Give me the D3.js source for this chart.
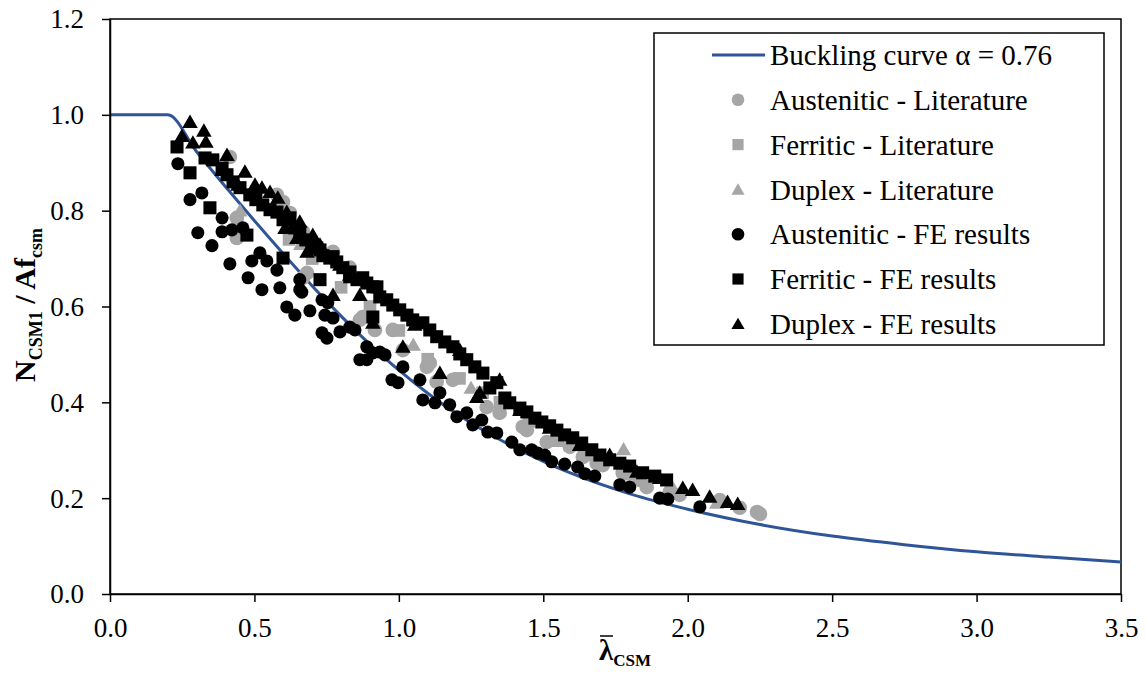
<!DOCTYPE html>
<html>
<head>
<meta charset="utf-8">
<script src="https://cdn.jsdelivr.net/npm/d3@7"></script>
<style>
  body { margin: 0; background: #fff; }
  svg text { font-family: "Liberation Serif", "Times New Roman", serif; fill: #000; }
</style>
</head>
<body>
<div id="screen"></div>
<script>
var width = 1146;
var height = 673;

// buckling curve (alpha = 0.76)
var curveLambda = [0, 0.2, 0.3, 0.4, 0.5, 0.6, 0.7, 0.8, 0.9, 1.0, 1.1, 1.2, 1.3, 1.4, 1.5, 1.6, 1.8, 2.0, 2.25, 2.5, 2.75, 3.0, 3.25, 3.5];
var curveChi = [1, 1, 0.923, 0.850, 0.779, 0.710, 0.643, 0.580, 0.521, 0.467, 0.419, 0.376, 0.339, 0.306, 0.277, 0.251, 0.209, 0.177, 0.145, 0.121, 0.103, 0.088, 0.077, 0.067];

// Austenitic - Literature
var austLit = [[0.415,0.912],[0.578,0.833],[0.599,0.818],[0.439,0.785],[0.439,0.743],[0.623,0.795],[0.633,0.754],
  [0.668,0.756],[0.668,0.660],[0.682,0.670],[0.772,0.714],[0.830,0.681],[0.875,0.578],[0.865,0.572],[0.917,0.551],
  [0.979,0.551],[1.014,0.509],[1.097,0.474],[1.107,0.482],[1.131,0.443],[1.187,0.447],[1.304,0.390],[1.349,0.378],
  [1.429,0.349],[1.443,0.342],[1.512,0.317],[1.592,0.307],[1.637,0.286],[1.685,0.273],[1.706,0.269],[1.775,0.253],
  [1.834,0.238],[1.858,0.223],[1.938,0.213],[1.972,0.207],[2.111,0.196],[2.180,0.180],[2.240,0.171],[2.250,0.167]];

// Ferritic - Literature
var ferrLit = [[0.62,0.74],[0.70,0.70],[0.80,0.64],[0.90,0.60],[1.00,0.55],[1.10,0.49],[1.21,0.45],[1.29,0.42],
  [1.35,0.40],[1.45,0.36],[1.55,0.32],[1.66,0.29],[1.80,0.25]];

// Duplex - Literature
var duplLit = [[0.45,0.80],[0.66,0.73],[0.90,0.58],[1.05,0.52],[1.25,0.43],[1.60,0.31],[1.778,0.302],[1.95,0.22],[2.10,0.19]];

// Austenitic - FE results
var austFE = [[0.235,0.898],[0.277,0.823],[0.318,0.837],[0.304,0.754],[0.353,0.727],[0.388,0.785],[0.388,0.756],
  [0.422,0.760],[0.415,0.689],[0.460,0.764],[0.478,0.660],[0.491,0.695],[0.519,0.712],[0.543,0.695],[0.526,0.635],
  [0.578,0.676],[0.588,0.639],[0.657,0.656],[0.657,0.635],[0.612,0.599],[0.640,0.582],[0.692,0.591],[0.664,0.630],
  [0.734,0.614],[0.754,0.608],[0.744,0.582],[0.772,0.576],[0.734,0.545],[0.751,0.534],[0.796,0.547],[0.830,0.557],
  [0.848,0.551],[0.865,0.489],[0.889,0.489],[0.889,0.516],[0.934,0.505],[0.952,0.499],[0.910,0.503],[0.976,0.447],
  [0.997,0.441],[1.014,0.474],[1.073,0.447],[1.083,0.405],[1.125,0.399],[1.142,0.420],[1.176,0.395],[1.201,0.370],
  [1.235,0.378],[1.256,0.353],[1.287,0.363],[1.308,0.338],[1.339,0.336],[1.391,0.317],[1.419,0.301],[1.460,0.301],
  [1.481,0.294],[1.505,0.290],[1.529,0.276],[1.574,0.271],[1.619,0.265],[1.644,0.251],[1.678,0.246],[1.765,0.228],
  [1.799,0.223],[1.903,0.200],[1.931,0.198],[2.042,0.182]];

// Ferritic - FE results
var ferrFE = [[0.232,0.933],[0.277,0.879],[0.329,0.910],[0.356,0.906],[0.346,0.806],[0.388,0.889],[0.405,0.875],
  [0.426,0.860],[0.450,0.848],[0.474,0.749],[0.484,0.833],[0.505,0.823],[0.529,0.812],[0.554,0.802],[0.578,0.797],
  [0.599,0.781],[0.623,0.785],[0.599,0.701],[0.640,0.764],[0.657,0.754],[0.678,0.739],[0.699,0.729],[0.716,0.722],
  [0.727,0.718],[0.737,0.706],[0.761,0.701],[0.772,0.704],[0.785,0.693],[0.806,0.681],[0.830,0.672],[0.830,0.662],
  [0.855,0.656],[0.875,0.660],[0.889,0.649],[0.910,0.641],[0.924,0.641],[0.934,0.620],[0.958,0.614],[0.979,0.603],
  [1.003,0.593],[1.028,0.582],[1.048,0.572],[1.083,0.566],[1.107,0.551],[1.131,0.537],[1.159,0.526],[1.187,0.516],
  [1.211,0.501],[1.235,0.489],[1.263,0.474],[1.291,0.461],[1.315,0.430],[1.339,0.441],[1.367,0.409],[1.384,0.399],
  [1.419,0.388],[1.443,0.380],[1.471,0.367],[1.495,0.359],[1.522,0.351],[1.547,0.342],[1.574,0.332],[1.602,0.326],
  [1.633,0.315],[1.668,0.301],[1.696,0.290],[1.730,0.280],[1.765,0.273],[1.799,0.267],[1.844,0.253],[1.886,0.246],
  [1.927,0.238],[0.727,0.656],[0.910,0.578]];

// Duplex - FE results
var duplFE = [[0.277,0.985],[0.249,0.956],[0.325,0.967],[0.332,0.944],[0.287,0.942],[0.405,0.916],[0.388,0.885],
  [0.467,0.881],[0.443,0.854],[0.502,0.854],[0.526,0.848],[0.554,0.839],[0.581,0.827],[0.612,0.797],[0.606,0.764],
  [0.647,0.743],[0.657,0.777],[0.682,0.714],[0.702,0.749],[0.727,0.729],[0.772,0.624],[0.772,0.701],[0.796,0.687],
  [0.830,0.666],[0.910,0.566],[0.865,0.624],[1.014,0.516],[1.055,0.562],[1.142,0.461],[1.211,0.509],[1.280,0.420],
  [1.270,0.411],[1.349,0.447],[1.419,0.384],[1.522,0.347],[1.626,0.311],[1.730,0.290],[1.824,0.255],[1.903,0.242],
  [1.983,0.221],[2.017,0.217],[2.076,0.203],[2.138,0.192],[2.173,0.188]];

var xTicks = [0, 0.5, 1.0, 1.5, 2.0, 2.5, 3.0, 3.5];
var yTicks = [0, 0.2, 0.4, 0.6, 0.8, 1.0, 1.2];

var scaleX = d3.scaleLinear().domain([0, 3.5]).range([110, 1121]);
var scaleY = d3.scaleLinear().domain([0, 1.2]).range([594, 19]);

var gray = "#a6a6a6";
var blue = "#2f5597";

var seriesList = [
  {name: "Austenitic - Literature", data: austLit, shape: d3.symbolCircle, size: 170, color: gray},
  {name: "Ferritic - Literature", data: ferrLit, shape: d3.symbolSquare, size: 160, color: gray},
  {name: "Duplex - Literature", data: duplLit, shape: d3.symbolTriangle, size: 100, color: gray},
  {name: "Austenitic - FE results", data: austFE, shape: d3.symbolCircle, size: 135, color: "#000"},
  {name: "Ferritic - FE results", data: ferrFE, shape: d3.symbolSquare, size: 170, color: "#000"},
  {name: "Duplex - FE results", data: duplFE, shape: d3.symbolTriangle, size: 105, color: "#000"}
];

var svg = d3.select("#screen").append("svg").attr("width", width).attr("height", height);

// frame
svg.append("rect").attr("x", 110).attr("y", 19).attr("width", 1011).attr("height", 575)
  .attr("fill", "none").attr("stroke", "#000").attr("stroke-width", 1.5);

// curve
var curvePts = curveLambda.map(function(l, i){ return [l, curveChi[i]]; });
var line = d3.line()
  .x(function(d){ return scaleX(d[0]); })
  .y(function(d){ return scaleY(d[1]); })
  .curve(d3.curveMonotoneX);
svg.append("path").datum(curvePts).attr("d", line)
  .attr("fill", "none").attr("stroke", blue).attr("stroke-width", 3);

// markers
seriesList.forEach(function(s){
  var sym = d3.symbol().type(s.shape).size(s.size);
  svg.append("g").selectAll("path").data(s.data).enter().append("path")
    .attr("d", sym)
    .attr("transform", function(d){
      var dy = s.shape === d3.symbolTriangle ? 1.5 : 0;
      return "translate(" + scaleX(d[0]) + "," + (scaleY(d[1]) + dy) + ")";
    })
    .attr("fill", s.color);
});

// axes
var xAxis = d3.axisBottom(scaleX).tickValues(xTicks).tickFormat(d3.format(".1f")).tickSize(8).tickSizeOuter(0);
var xg = svg.append("g").attr("transform", "translate(0,594)").call(xAxis);
xg.selectAll("text").attr("y", 43).attr("dy", 0).style("font-size", "27px").style("font-family", "Liberation Serif");

var yAxis = d3.axisLeft(scaleY).tickValues(yTicks).tickFormat(d3.format(".1f")).tickSize(8).tickSizeOuter(0);
var yg = svg.append("g").attr("transform", "translate(110,0)").call(yAxis);
yg.selectAll("text").attr("x", -26).attr("dy", "0.33em").style("font-size", "27px").style("font-family", "Liberation Serif");

[xg, yg].forEach(function(g){
  g.select(".domain").attr("stroke", "#000").attr("stroke-width", 1.5);
  g.selectAll(".tick line").attr("stroke", "#000").attr("stroke-width", 1.5);
});

// y title
var yTitle = svg.append("text")
  .attr("transform", "translate(35,305) rotate(-90)")
  .attr("text-anchor", "middle")
  .style("font-size", "30px").style("font-weight", "bold");
yTitle.append("tspan").text("N");
yTitle.append("tspan").attr("dy", 7).style("font-size", "18px").text("CSM1");
yTitle.append("tspan").attr("dy", -7).text(" / Af");
yTitle.append("tspan").attr("dy", 7).style("font-size", "18px").text("csm");

// x title
var xTitle = svg.append("text").attr("x", 599).attr("y", 660)
  .style("font-size", "29px").style("font-weight", "bold");
xTitle.append("tspan").text("λ");
xTitle.append("tspan").attr("dy", 6).style("font-size", "17px").text("CSM");
svg.append("line").attr("x1", 600).attr("x2", 613).attr("y1", 636).attr("y2", 636)
  .attr("stroke", "#000").attr("stroke-width", 1.5);

// legend
var legend = svg.append("g");
legend.append("rect").attr("x", 654).attr("y", 33).attr("width", 450).attr("height", 312)
  .attr("fill", "#fff").attr("stroke", "#000").attr("stroke-width", 1.5);
var rowY = d3.range(7).map(function(i){ return 55 + i * 44.8; });
legend.append("line").attr("x1", 712).attr("x2", 765).attr("y1", rowY[0]).attr("y2", rowY[0])
  .attr("stroke", blue).attr("stroke-width", 3);
legend.append("text").attr("x", 770).attr("y", rowY[0]).attr("dy", "0.35em")
  .style("font-size", "29px").text("Buckling curve α = 0.76");
seriesList.forEach(function(s, i){
  var y = rowY[i + 1];
  legend.append("path")
    .attr("d", d3.symbol().type(s.shape).size(s.shape === d3.symbolTriangle ? 75 : 125)())
    .attr("transform", "translate(738," + (y + (s.shape === d3.symbolTriangle ? 1.5 : 0)) + ")")
    .attr("fill", s.color);
  legend.append("text").attr("x", 770).attr("y", y).attr("dy", "0.35em")
    .style("font-size", "29px").text(s.name);
});
</script>
</body>
</html>
